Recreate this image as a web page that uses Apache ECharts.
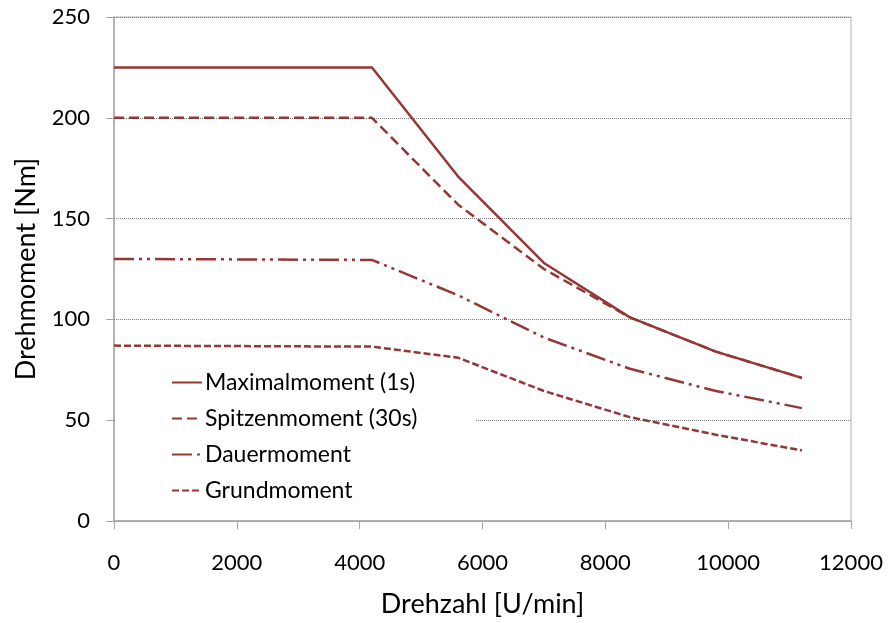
<!DOCTYPE html>
<html><head><meta charset="utf-8">
<script src="https://cdn.jsdelivr.net/npm/echarts@6/dist/echarts.min.js"></script>
<style>html,body{margin:0;padding:0;background:#fff}#c{width:889px;height:623px}</style>
</head><body><div id="c"></div>
<script>
const speeds = [0, 4200, 5600, 7000, 8400, 9800, 11200];
const maximalmoment = [225, 225, 171, 128, 101, 84, 71];
const spitzenmoment = [200, 200, 157, 125, 101, 84, 71];
const dauermoment = [130, 129.5, 112, 91, 75.5, 64.5, 56];
const grundmoment = [87, 86.5, 81, 64.5, 51.5, 42.8, 35];
const seriesNames = ['Maximalmoment (1s)', 'Spitzenmoment (30s)', 'Dauermoment', 'Grundmoment'];
const xTicks = [0, 2000, 4000, 6000, 8000, 10000, 12000];
const yTicks = [0, 50, 100, 150, 200, 250];

const col = '#953735';
const font = 'Lato';
function pts(arr){ return speeds.map((s,i)=>[s, arr[i]]); }
const dashes = ['solid', [10,5], [20,5,3,5,3,5], [7,3]];
const data = [maximalmoment, spitzenmoment, dauermoment, grundmoment];

const chart = echarts.init(document.getElementById('c'), null, {renderer:'canvas'});
chart.setOption({
  animation:false,
  backgroundColor:'#fff',
  grid:{left:114, right:38, top:17, bottom:101, show:true, borderColor:'#b4b4b4', borderWidth:1},
  xAxis:{type:'value', min:xTicks[0], max:xTicks[xTicks.length-1], interval:2000,
    name:'Drehzahl [U/min]', nameLocation:'middle', nameGap:70,
    nameTextStyle:{fontFamily:font, fontSize:27, color:'#000'},
    axisLine:{show:true, lineStyle:{color:'#a6a6a6', width:1.5}},
    axisTick:{show:true, length:8, lineStyle:{color:'#a6a6a6'}},
    axisLabel:{margin:31, fontFamily:font, fontSize:22, color:'#000', formatter:v=>String(v)},
    splitLine:{show:false}},
  yAxis:{type:'value', min:yTicks[0], max:yTicks[yTicks.length-1], interval:50,
    name:'Drehmoment [Nm]', nameLocation:'middle', nameGap:74,
    nameTextStyle:{fontFamily:font, fontSize:27, color:'#000'},
    axisLine:{show:true, lineStyle:{color:'#a6a6a6', width:1.5}},
    axisTick:{show:true, length:8, lineStyle:{color:'#a6a6a6'}},
    axisLabel:{margin:24, fontFamily:font, fontSize:22, color:'#000', formatter:v=>String(v)},
    splitLine:{show:true, lineStyle:{color:'#808080', type:[1,1], width:1}}},
  legend:{orient:'vertical', left:116, top:367, itemWidth:30, itemHeight:12, itemGap:13,
    backgroundColor:'#fff', padding:[4,58,4,55],
    itemStyle:{opacity:0},
    textStyle:{fontFamily:font, fontSize:23, color:'#000', padding:[0,0,0,-2]},
    data:seriesNames},
  series:seriesNames.map((n,i)=>({
    name:n, type:'line', data:pts(data[i]), showSymbol:false, symbol:'none',
    lineStyle:{color:col, width:2.5, type:dashes[i]}, itemStyle:{color:col}, z:2+i
  }))
});
</script></body></html>
